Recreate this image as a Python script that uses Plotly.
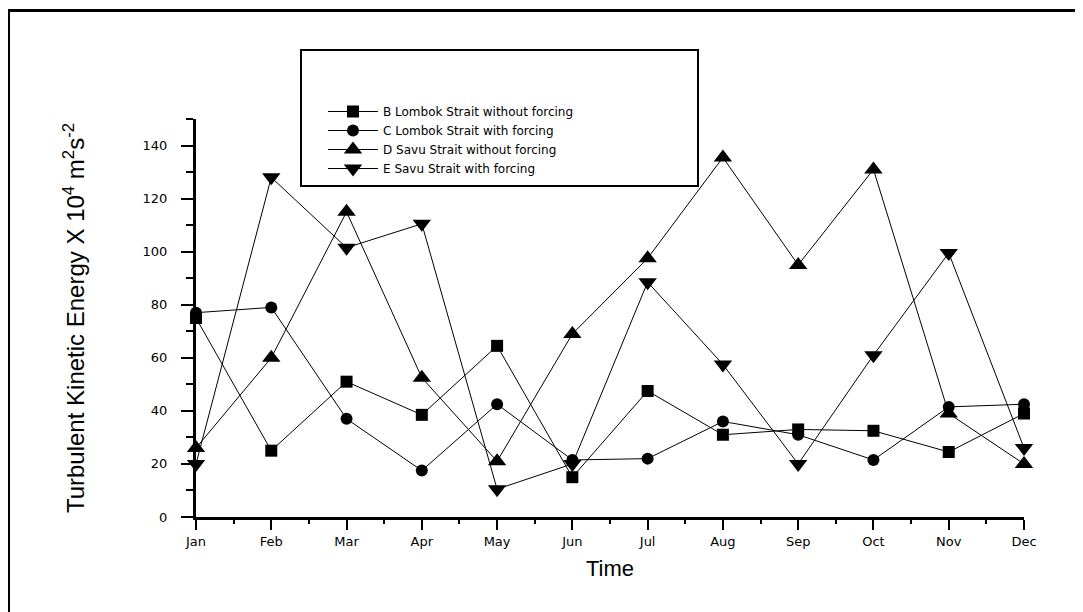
import plotly.graph_objects as go

months = ["Jan", "Feb", "Mar", "Apr", "May", "Jun", "Jul", "Aug", "Sep", "Oct", "Nov", "Dec"]
lombok_without = [75, 25, 51, 38.5, 64.5, 15, 47.5, 31, 33, 32.5, 24.5, 39]
lombok_with = [77, 79, 37, 17.5, 42.5, 21.5, 22, 36, 31, 21.5, 41.5, 42.5]
savu_without = [26, 60, 115, 52.5, 21, 69, 97.5, 135.5, 95, 131, 39, 20]
savu_with = [20, 128, 101.5, 110.5, 10.5, 20, 88.5, 57.5, 20, 61, 99.5, 26]

names = ["B Lombok Strait without forcing", "C Lombok Strait with forcing",
         "D Savu Strait without forcing", "E Savu Strait with forcing"]
series = [lombok_without, lombok_with, savu_without, savu_with]
symbols = ["square", "circle", "triangle-up", "triangle-down"]
sizes = [12, 12, 16, 16]

# page offset (browser body margin)
OFF = 8
W, H = 1083 - OFF, 612 - OFF
# plot area in page pixels
PX0, PX1, PY0, PY1 = 196, 1024, 119, 517
L, T = PX0 - OFF, PY0 - OFF
R = W - (PX1 - OFF)
B = H - (PY1 - OFF)
pw, ph = PX1 - PX0, PY1 - PY0

def px_x(p):
    return (p - PX0) / pw

def px_y(p):
    return (PY1 - p) / ph

x = list(range(len(months)))
fig = go.Figure()
for nm, ys, sym, sz in zip(names, series, symbols, sizes):
    fig.add_trace(go.Scatter(
        x=x, y=ys, name=nm, mode="lines+markers",
        line=dict(color="black", width=1),
        marker=dict(symbol=sym, size=sz, color="black"),
        cliponaxis=False,
    ))

font = "Liberation Sans, Arial, sans-serif"
tfont = "DejaVu Sans, Liberation Sans, sans-serif"
fig.update_layout(
    width=W, height=H,
    margin=dict(l=L, r=R, t=T, b=B, autoexpand=False),
    paper_bgcolor="white", plot_bgcolor="white",
    font=dict(family=font, color="black", size=13),
    showlegend=True,
    legend=dict(
        x=px_x(323), y=px_y(97), xanchor="left", yanchor="top",
        borderwidth=0, bgcolor="rgba(0,0,0,0)",
        font=dict(family=tfont, size=12, color="black"),
        itemwidth=50,
        tracegroupgap=0,
    ),
    xaxis=dict(
        range=[0, 11], tickmode="array", tickvals=x, ticktext=months,
        showgrid=False, zeroline=False,
        showline=True, linecolor="black", linewidth=3,
        ticks="outside", ticklen=10, tickwidth=2, tickcolor="black",
        tickfont=dict(family=tfont, size=13),
        minor=dict(dtick=0.5, tick0=0, ticks="outside", ticklen=4, tickwidth=2, tickcolor="black", showgrid=False),
        title=dict(text="Time", font=dict(family=font, size=22), standoff=14),
    ),
    yaxis=dict(
        range=[0, 150], tickmode="array", tickvals=list(range(0, 141, 20)),
        showgrid=False, zeroline=False,
        showline=True, linecolor="black", linewidth=3,
        ticks="outside", ticklen=12, tickwidth=2, tickcolor="black",
        tickfont=dict(family=tfont, size=13), ticklabelstandoff=11,
        minor=dict(dtick=10, tick0=0, ticks="outside", ticklen=7, tickwidth=2, tickcolor="black", showgrid=False),
        title=dict(text="Turbulent Kinetic Energy X 10<sup>4</sup> m<sup>2</sup>s<sup>-2</sup>",
                   font=dict(family=font, size=24), standoff=52),
    ),
    shapes=[
        dict(type="rect", xref="paper", yref="paper",
             x0=px_x(8.5), x1=px_x(1100), y0=px_y(640), y1=px_y(10.5),
             line=dict(color="black", width=3), layer="below"),
        dict(type="rect", xref="paper", yref="paper",
             x0=px_x(301), x1=px_x(698), y0=px_y(186), y1=px_y(50),
             line=dict(color="black", width=2), fillcolor="white", layer="below"),
    ],
)

fig.write_html("out.html")
